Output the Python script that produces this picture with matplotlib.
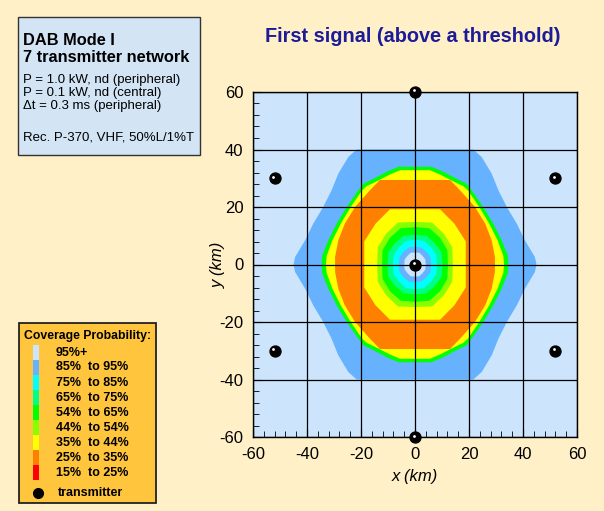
"""
DAB Mode I coverage map, 7 transmitter network (first signal above threshold)
"""
import matplotlib.pyplot as plt
from matplotlib.patches import Rectangle
from matplotlib.ticker import MultipleLocator
from matplotlib.transforms import offset_copy

plt.rcParams["font.family"] = ["Liberation Sans", "DejaVu Sans"]
plt.rcParams["axes.unicode_minus"] = False

# ── picture size (px) ──────────────────────────────────────────────────────
W, H = 604, 511

# ── band outlines, upper-right quadrant (x, y in km), mirrored to the rest ─
# outermost first; each polygon is filled with the band colour inside it
BLUE_X = [45.0, 44.4, 40.7, 37.7, 34.0, 30.9, 28.4, 24.7, 21.6, 0.0]
BLUE_Y = [0.0, 2.6, 8.4, 14.2, 20.0, 25.8, 31.6, 37.4, 40.0, 40.0]

GRN_OUT_X = [34.6, 34.4, 32.1, 29.0, 25.3, 21.0, 19.1, 15.0, 10.0, 6.0, 0.0]
GRN_OUT_Y = [0.0, 3.0, 8.4, 14.2, 20.0, 25.8, 28.1, 30.0, 32.5, 34.0, 34.0]

YEL_OUT_X = [33.0, 32.7, 30.6, 27.5, 23.8, 19.6, 17.8, 14.0, 9.5, 5.5, 0.0]
YEL_OUT_Y = [0.0, 3.0, 8.4, 14.2, 20.0, 25.8, 27.3, 29.0, 31.2, 32.8, 32.8]

ORG_OUT_X = [29.6, 29.6, 28.4, 26.0, 22.2, 16.7, 13.0, 0.0]
ORG_OUT_Y = [0.0, 2.6, 8.4, 14.2, 20.0, 25.8, 29.4, 29.4]

YEL_IN_X = [18.8, 18.8, 14.6, 9.3, 0.0]
YEL_IN_Y = [0.0, 8.0, 14.2, 19.2, 19.2]

CHA_X = [14.0, 13.8, 10.6, 6.3, 0.0]
CHA_Y = [0.0, 6.0, 10.8, 14.6, 14.8]

GRN_IN_X = [12.2, 12.0, 9.2, 5.3, 0.0]
GRN_IN_Y = [0.0, 5.0, 9.4, 12.6, 13.0]

MNT_X = [10.2, 9.9, 7.4, 4.2, 0.0]
MNT_Y = [0.0, 4.2, 7.4, 10.0, 10.4]

CYN_X = [8.2, 7.9, 5.9, 3.3, 0.0]
CYN_Y = [0.0, 3.4, 6.0, 8.2, 8.6]

BLU_IN_X = [6.0, 5.7, 4.3, 2.4, 0.0]
BLU_IN_Y = [0.0, 2.6, 4.4, 5.9, 6.2]

LB_X = [4.0, 3.8, 2.8, 1.6, 0.0]
LB_Y = [0.0, 1.8, 3.0, 4.1, 4.2]

# ── colours ────────────────────────────────────────────────────────────────
C95 = "#CCE4FC"
C85 = "#66B2FF"
C75 = "#00FFFF"
C65 = "#00FF88"
C54 = "#00FF00"
C44 = "#88FF00"
C35 = "#FFFF00"
C25 = "#FF8000"
C15 = "#FF0000"

BANDS = [
    (BLUE_X, BLUE_Y, C85),
    (GRN_OUT_X, GRN_OUT_Y, C54),
    (YEL_OUT_X, YEL_OUT_Y, C35),
    (ORG_OUT_X, ORG_OUT_Y, C25),
    (YEL_IN_X, YEL_IN_Y, C35),
    (CHA_X, CHA_Y, C44),
    (GRN_IN_X, GRN_IN_Y, C54),
    (MNT_X, MNT_Y, C65),
    (CYN_X, CYN_Y, C75),
    (BLU_IN_X, BLU_IN_Y, C85),
    (LB_X, LB_Y, C95),
]

# ── transmitters ───────────────────────────────────────────────────────────
TX_X = [0, 0, 0, -52, 52, -52, 52]
TX_Y = [60, 0, -60, 30, 30, -30, -30]

# ── legend ─────────────────────────────────────────────────────────────────
LEG_LABELS = ["95%+", "85%  to 95%", "75%  to 85%", "65%  to 75%",
              "54%  to 65%", "44%  to 54%", "35%  to 44%", "25%  to 35%",
              "15%  to 25%"]
LEG_COLORS = [C95, C85, C75, C65, C54, C44, C35, C25, C15]

INFO_TITLE = ["DAB Mode I", "7 transmitter network"]
INFO_LINES = ["P = 1.0 kW, nd (peripheral)", "P = 0.1 kW, nd (central)",
              "\u0394t = 0.3 ms (peripheral)"]
INFO_REC = "Rec. P-370, VHF, 50%L/1%T"


def mirror(qx, qy):
    """quadrant outline -> closed outline round the origin"""
    xs = list(qx) + [-v for v in qx[::-1]] + [-v for v in qx] + list(qx[::-1])
    ys = list(qy) + list(qy[::-1]) + [-v for v in qy] + [-v for v in qy[::-1]]
    return xs, ys


def fx(px):
    return px / W


def fy(py):
    return 1 - py / H


fig = plt.figure(figsize=(W / 100, H / 100), dpi=100)
fig.patch.set_facecolor("#FFF0C8")

ax = fig.add_axes([fx(253), fy(437), 324 / W, 345 / H])
ax.set_facecolor(C95)

for qx, qy, col in BANDS:
    xs, ys = mirror(qx, qy)
    ax.fill(xs, ys, color=col, lw=0, zorder=1)

ax.set_xlim(-60, 60)
ax.set_ylim(-60, 60)
ax.set_xticks(range(-60, 61, 20))
ax.set_yticks(range(-60, 61, 20))
ax.xaxis.set_minor_locator(MultipleLocator(4))
ax.yaxis.set_minor_locator(MultipleLocator(4))
ax.tick_params(which="both", direction="in", top=False, right=False,
               labelsize=12, pad=7)
ax.tick_params(which="major", length=6)
ax.tick_params(which="minor", length=4)
ax.set_axisbelow(False)
ax.grid(True, which="major", color="black", lw=0.9)
for s in ax.spines.values():
    s.set_linewidth(1.0)
ax.set_xlabel("x (km)", style="italic", fontsize=12, labelpad=5)
ax.set_ylabel("y (km)", style="italic", fontsize=12, labelpad=-5)

# transmitter dots with a small highlight
ax.scatter(TX_X, TX_Y, s=62, c="black", zorder=6, clip_on=False)
hl = offset_copy(ax.transData, fig=fig, x=-1.5, y=1.5, units="dots")
ax.scatter(TX_X, TX_Y, s=4, c="white", zorder=7, clip_on=False,
           transform=hl, lw=0)

# title
fig.text(fx(413), fy(37), "First signal (above a threshold)", ha="center",
         va="center", fontsize=14.3, weight="bold", color="#1C1C99")

# ── info box ───────────────────────────────────────────────────────────────
fig.add_artist(Rectangle((fx(18), fy(155)), 182 / W, 138 / H,
                         transform=fig.transFigure, facecolor="#D3E5F5",
                         edgecolor="#333333", lw=1.0))
fig.text(fx(23), fy(45), INFO_TITLE[0], fontsize=11.8, weight="bold")
fig.text(fx(23), fy(61.5), INFO_TITLE[1], fontsize=11.8, weight="bold")
for i, t in enumerate(INFO_LINES):
    fig.text(fx(23), fy(82.5 + 13.4 * i), t, fontsize=9.5)
fig.text(fx(23), fy(140), INFO_REC, fontsize=9.5)

# ── legend box ─────────────────────────────────────────────────────────────
fig.add_artist(Rectangle((fx(19), fy(503)), 137 / W, 180 / H,
                         transform=fig.transFigure, facecolor="#FFC53D",
                         edgecolor="#222222", lw=1.3))
fig.text(fx(24), fy(339), "Coverage Probability:", fontsize=8.8,
         weight="bold")
for i, (lab, col) in enumerate(zip(LEG_LABELS, LEG_COLORS)):
    y0 = 345 + 15 * i
    fig.add_artist(Rectangle((fx(32.7), fy(y0 + 15)), 6.6 / W, 15 / H,
                             transform=fig.transFigure, facecolor=col,
                             lw=0))
    fig.text(fx(56), fy(y0 + 7.5), lab, fontsize=9, weight="bold",
             va="center")
fig.add_artist(plt.Line2D([fx(38)], [fy(493)], marker="o", ms=7,
                          color="black", transform=fig.transFigure))
fig.text(fx(58), fy(493), "transmitter", fontsize=9, weight="bold",
         va="center")

fig.savefig("out.png", dpi=100, facecolor=fig.get_facecolor())
